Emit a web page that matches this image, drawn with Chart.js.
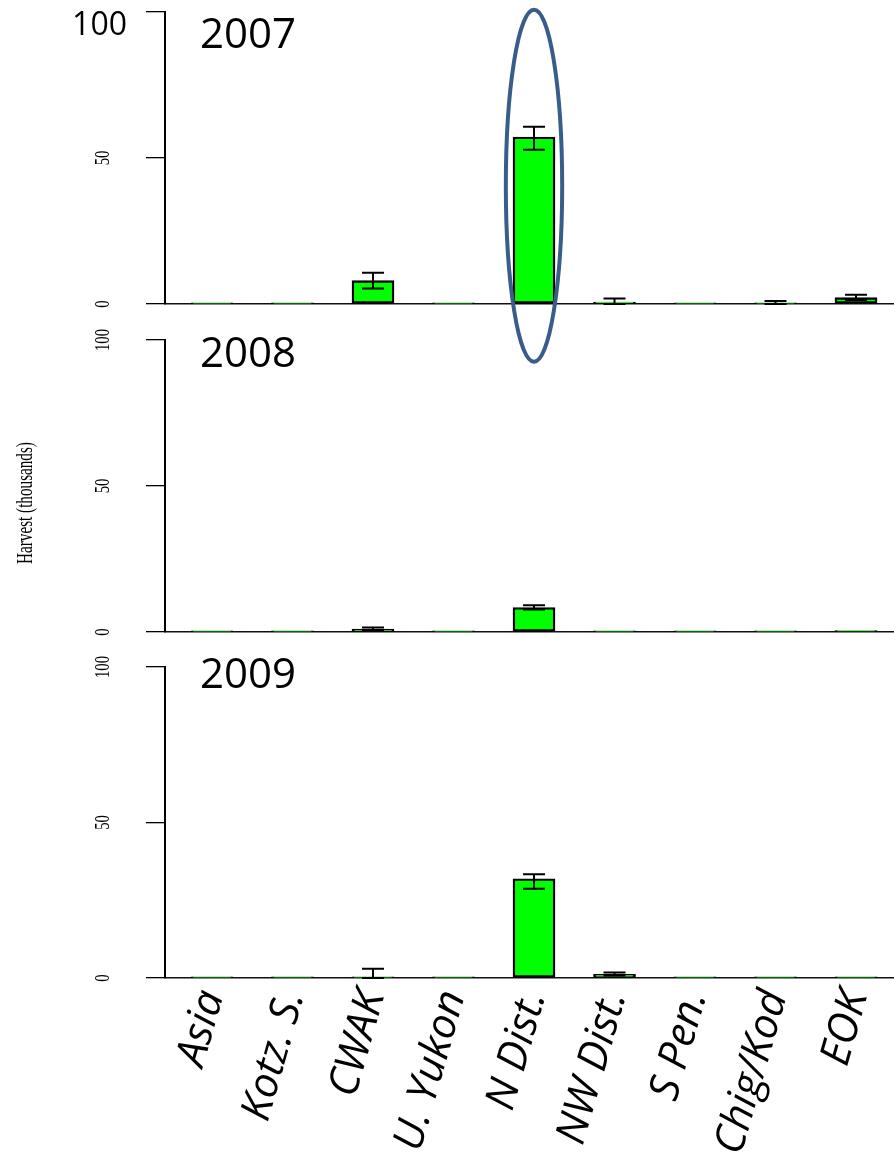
<!DOCTYPE html>
<html>
<head>
<meta charset="utf-8">
<script src="https://cdn.jsdelivr.net/npm/chart.js@4.4.1/dist/chart.umd.min.js"></script>
<style>
  html, body { margin: 0; padding: 0; background: #fff; }
  #wrap { position: relative; width: 894px; height: 1168px; overflow: hidden; }
  canvas { position: absolute; left: 0; }
</style>
</head>
<body>
<div id="wrap">
  <canvas id="p2009" width="894" height="528" style="top:640px"></canvas>
  <canvas id="p2008" width="894" height="330" style="top:320px"></canvas>
  <canvas id="p2007" width="894" height="380" style="top:0px"></canvas>
</div>
<script>
// categories (reporting groups)
const CATEGORIES = ['Asia', 'Kotz. S.', 'CWAK', 'U. Yukon', 'N Dist.', 'NW Dist.', 'S Pen.', 'Chig/Kod', 'EOK'];
const Y_TICKS = [0, 50, 100];

// harvest (thousands) with lower / upper error bounds
const HARVEST_2007 = [0.4, 0.4, 8.0, 0.4, 57.2, 0.7, 0.4, 0.4, 2.2];
const LOW_2007     = [0.4, 0.4, 5.3, 0.4, 52.8, 0.0, 0.4, 0.0, 1.4];
const HIGH_2007    = [0.4, 0.4, 10.7, 0.4, 60.7, 1.9, 0.4, 1.0, 3.2];

const HARVEST_2008 = [0.4, 0.4, 1.0, 0.4, 8.4, 0.4, 0.4, 0.4, 0.5];
const LOW_2008     = [0.4, 0.4, 0.7, 0.4, 7.7, 0.4, 0.4, 0.4, 0.5];
const HIGH_2008    = [0.4, 0.4, 1.5, 0.4, 9.2, 0.4, 0.4, 0.4, 0.5];

const HARVEST_2009 = [0.4, 0.4, 0.4, 0.4, 31.9, 1.2, 0.4, 0.4, 0.4];
const LOW_2009     = [0.4, 0.4, 0.0, 0.4, 28.7, 0.8, 0.4, 0.4, 0.4];
const HIGH_2009    = [0.4, 0.4, 3.0, 0.4, 33.4, 1.8, 0.4, 0.4, 0.4];

// the circled bar (data space)
const HIGHLIGHT = { category: 'N Dist.', top: 100.8, bottom: -19.8, halfWidth: 0.35 };

const X_MIN = -0.584, X_MAX = 8.472;

// draw text rotated + squeezed along its direction (R style condensed serif)
function squeezedText(ctx, text, x, y, angle, font, squeeze) {
  ctx.save();
  ctx.translate(x, y);
  ctx.rotate(angle);
  ctx.scale(squeeze, 1);
  ctx.font = font;
  ctx.fillStyle = '#000';
  ctx.textAlign = 'center';
  ctx.textBaseline = 'middle';
  ctx.fillText(text, 0, 0);
  ctx.restore();
}

const panelDecor = {
  id: 'panelDecor',
  afterDatasetsDraw(chart, args, opts) {
    const { ctx, scales: { y } } = chart;
    const meta = chart.getDatasetMeta(0);
    ctx.save();
    ctx.strokeStyle = '#000';
    ctx.lineWidth = 2;
    meta.data.forEach((bar, i) => {
      const lo = y.getPixelForValue(opts.low[i]);
      const hi = y.getPixelForValue(opts.high[i]);
      if (Math.abs(lo - hi) < 1) return;
      ctx.beginPath();
      ctx.moveTo(bar.x, lo); ctx.lineTo(bar.x, hi);
      ctx.moveTo(bar.x - 11, hi); ctx.lineTo(bar.x + 11, hi);
      ctx.moveTo(bar.x - 11, lo); ctx.lineTo(bar.x + 11, lo);
      ctx.stroke();
    });
    ctx.restore();
  },
  afterDraw(chart, args, opts) {
    const { ctx, chartArea, scales: { x, y } } = chart;
    ctx.save();
    // year
    ctx.font = '42px "Open Sans"';
    ctx.fillStyle = '#000';
    ctx.textAlign = 'left';
    ctx.textBaseline = 'alphabetic';
    ctx.fillText(opts.year, 200, chartArea.top + opts.yearOffset);

    // y tick labels
    Y_TICKS.forEach(v => {
      const py = y.getPixelForValue(v);
      if (v === 100 && opts.bigTop) {
        ctx.font = '32px "Open Sans"';
        ctx.textAlign = 'right';
        ctx.textBaseline = 'alphabetic';
        ctx.fillText(String(v), 127, py + 23);
      } else {
        squeezedText(ctx, String(v), 103, py, -Math.PI / 2, '21px "Liberation Serif"', 0.7);
      }
    });

    // axis title
    if (opts.title) {
      squeezedText(ctx, opts.title, 26, opts.titleY, -Math.PI / 2, '23px "Liberation Serif"', 0.66);
    }

    // ellipse
    if (opts.highlight) {
      const h = opts.highlight;
      const i = CATEGORIES.indexOf(h.category);
      const cx = x.getPixelForValue(i);
      const top = y.getPixelForValue(h.top), bot = y.getPixelForValue(h.bottom);
      const rx = x.getPixelForValue(i + h.halfWidth) - cx;
      ctx.beginPath();
      ctx.ellipse(cx, (top + bot) / 2, rx, (bot - top) / 2, 0, 0, 2 * Math.PI);
      ctx.strokeStyle = '#385d8a';
      ctx.lineWidth = 4;
      ctx.stroke();
    }
    ctx.restore();
  }
};

function makePanel(id, cfg) {
  return new Chart(document.getElementById(id), {
    type: 'bar',
    data: {
      datasets: [{
        data: cfg.values.map((v, i) => ({ x: i, y: v })),
        backgroundColor: '#00ff00',
        borderColor: '#000',
        borderWidth: 2.4,
        borderSkipped: false,
        barThickness: 42
      }]
    },
    options: {
      responsive: false,
      animation: false,
      events: [],
      layout: { padding: { left: 146, right: 0, top: cfg.padTop, bottom: cfg.padBottom } },
      plugins: {
        legend: { display: false },
        tooltip: { enabled: false },
        panelDecor: {
          low: cfg.low, high: cfg.high, year: cfg.year, yearOffset: cfg.yearOffset,
          bigTop: cfg.bigTop, title: cfg.title, titleY: cfg.titleY, highlight: cfg.highlight
        }
      },
      scales: {
        x: {
          type: 'linear', min: X_MIN, max: X_MAX, offset: false,
          grid: { display: false, drawTicks: false },
          border: { display: true, color: '#111', width: 1.5 },
          afterBuildTicks: s => { s.ticks = CATEGORIES.map((_, i) => ({ value: i })); },
          ticks: {
            display: cfg.showLabels, autoSkip: false, minRotation: 74, maxRotation: 74,
            padding: 7, color: '#000',
            font: { family: 'Open Sans', style: 'italic', size: 42 },
            callback: v => CATEGORIES[v]
          },
          afterFit: s => { s.height = cfg.axisHeight; s.paddingLeft = 0; s.paddingRight = 0; }
        },
        y: {
          min: 0, max: 100,
          ticks: { display: false, stepSize: 50 },
          grid: { drawOnChartArea: false, drawTicks: true, tickLength: 19, color: '#000', lineWidth: 1.3 },
          border: { display: true, color: '#000', width: 2 },
          afterFit: s => { s.width = 19; }
        }
      }
    },
    plugins: [panelDecor]
  });
}

makePanel('p2007', {
  values: HARVEST_2007, low: LOW_2007, high: HIGH_2007, year: '2007', yearOffset: 36,
  padTop: 12, padBottom: 76, axisHeight: 0, showLabels: false, bigTop: true, highlight: HIGHLIGHT
});
makePanel('p2008', {
  values: HARVEST_2008, low: LOW_2008, high: HIGH_2008, year: '2008', yearOffset: 27,
  padTop: 20, padBottom: 18, axisHeight: 0, showLabels: false,
  title: 'Harvest (thousands)', titleY: 183
});
makePanel('p2009', {
  values: HARVEST_2009, low: LOW_2009, high: HIGH_2009, year: '2009', yearOffset: 21,
  padTop: 27, padBottom: 0, axisHeight: 190, showLabels: true
});
</script>
</body>
</html>
